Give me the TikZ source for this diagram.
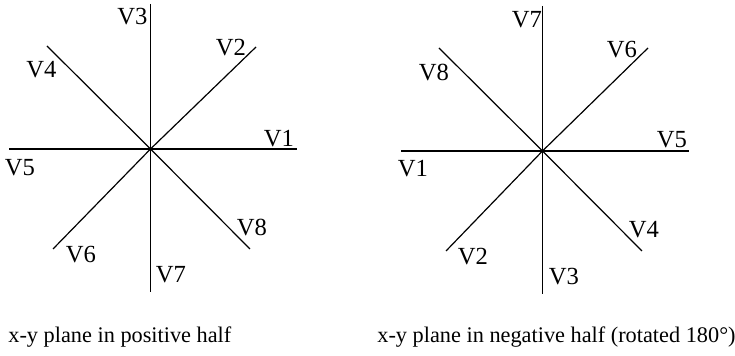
\documentclass[tikz,border=0pt]{standalone}
\usepackage{fontspec}
\setmainfont{Liberation Serif}
\usepackage{tikz}
\usetikzlibrary{positioning, calc}

\begin{document}
\begin{tikzpicture}[
  x=0.5pt, y=-0.5pt,
  axis/.style={line width=0.6pt, draw=black},
  lbl/.style={inner sep=0pt, font=\fontsize{12.3}{14}\selectfont},
  caption/.style={inner sep=0pt, anchor=base west, font=\fontsize{11.15}{13}\selectfont},
]
\useasboundingbox (0,0) rectangle (735,356);

% left plane (positive half)
\coordinate (pc) at (150.5,149);
\coordinate (pn) at (150.5,4);
\coordinate (ps) at (150.5,292);
\coordinate (pw) at (9,149);
\coordinate (pe) at (297,149);
\coordinate (pne) at (256,47);
\coordinate (pnw) at (47,46);
\coordinate (psw) at (53,249);
\coordinate (pse) at (250,249);

\draw[axis] (pn) -- (ps);
\draw[axis] (pw) -- (pe);
\draw[axis] (pne) -- (pc) -- (psw);
\draw[axis] (pnw) -- (pc) -- (pse);

\node[lbl] (pv1) at (279,139) {V1};
\node[lbl] (pv2) at (231,47.5) {V2};
\node[lbl] (pv3) at (132.5,16.5) {V3};
\node[lbl] (pv4) at (41.5,70) {V4};
\node[lbl] (pv5) at (20,168) {V5};
\node[lbl] (pv6) at (81,255) {V6};
\node[lbl] (pv7) at (171,275) {V7};
\node[lbl] (pv8) at (252,228) {V8};

% right plane (negative half)
\coordinate (nc) at (542.5,151);
\coordinate (nn) at (542.5,6);
\coordinate (ns) at (542.5,294);
\coordinate (nw) at (401,151);
\coordinate (ne) at (689,151);
\coordinate (nne) at (648,48);
\coordinate (nnw) at (439,48);
\coordinate (nsw) at (446,251);
\coordinate (nse) at (642,251);

\draw[axis] (nn) -- (ns);
\draw[axis] (nw) -- (ne);
\draw[axis] (nne) -- (nc) -- (nsw);
\draw[axis] (nnw) -- (nc) -- (nse);

\node[lbl] (nv5) at (672,140) {V5};
\node[lbl] (nv6) at (622,50) {V6};
\node[lbl] (nv7) at (527,20) {V7};
\node[lbl] (nv8) at (434,73) {V8};
\node[lbl] (nv1) at (413,169) {V1};
\node[lbl] (nv2) at (473,257) {V2};
\node[lbl] (nv3) at (564,277) {V3};
\node[lbl] (nv4) at (644,230) {V4};

\node[caption] (poscap) at (8,343) {x-y plane in positive half};
\node[caption] (negcap) at (377,343) {x-y plane in negative half (rotated 180°)};

\end{tikzpicture}
\end{document}
